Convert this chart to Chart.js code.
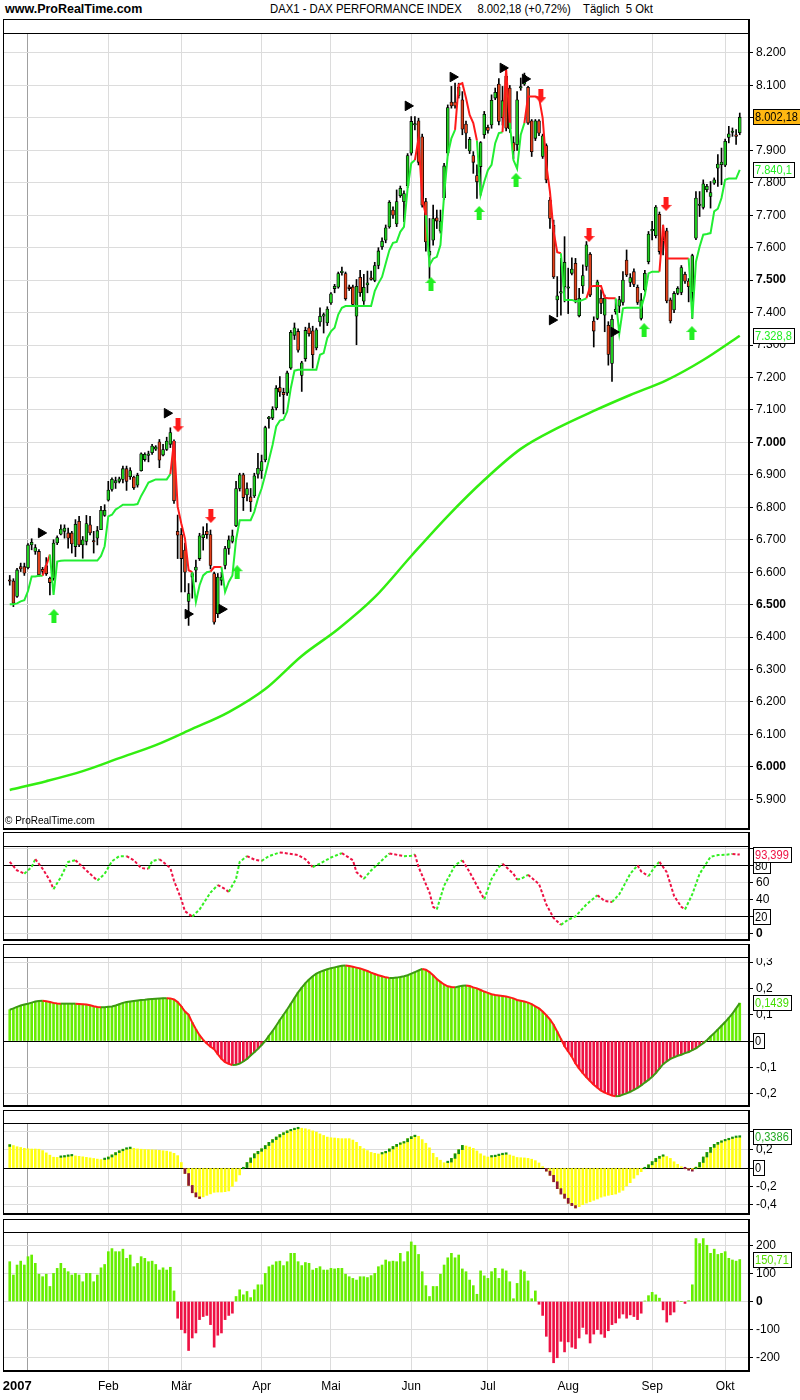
<!DOCTYPE html>
<html lang="de">
<head>
<meta charset="utf-8">
<title>DAX1 - DAX PERFORMANCE INDEX</title>
<script src="https://cdn.jsdelivr.net/npm/chart.js@4.4.1/dist/chart.umd.min.js"></script>
<style>
  body { margin: 0; background: #fff; }
  #page { position: relative; width: 800px; height: 1400px; overflow: hidden; font-family: 'Liberation Sans', Arial, sans-serif; }
  .frame { position: absolute; left: 3px; width: 747px; box-sizing: border-box; border: 1px solid #000; border-right-width: 2px; border-bottom-width: 2px; }
  .head { position: absolute; left: 3px; width: 746px; height: 1px; background: #000; }
  canvas { position: absolute; left: 0; }
  .txt { position: absolute; white-space: pre; color: #000; transform-origin: 0 0; }
</style>
</head>
<body>
<div id="page">
  <div class="txt" style="left:5px;top:1px;font-size:13px;font-weight:bold;transform:scaleX(0.96)">www.ProRealTime.com</div>
  <div class="txt" style="left:270px;top:1px;font-size:13px;transform:scaleX(0.87)">DAX1 - DAX PERFORMANCE INDEX     8.002,18 (+0,72%)    Täglich  5 Okt</div>

  <div class="frame" style="top:19px;height:811px"></div>
  <div class="head" style="top:33px"></div>
  <div class="frame" style="top:832px;height:109px"></div>
  <div class="head" style="top:846px"></div>
  <div class="frame" style="top:944px;height:163px"></div>
  <div class="head" style="top:957px"></div>
  <div class="frame" style="top:1110px;height:105px"></div>
  <div class="head" style="top:1123px"></div>
  <div class="frame" style="top:1219px;height:153px"></div>
  <div class="head" style="top:1232px"></div>

  <canvas id="price" width="800" height="794" style="top:34px"></canvas>
  <canvas id="rsi" width="800" height="92" style="top:847px"></canvas>
  <canvas id="macd" width="800" height="147" style="top:958px"></canvas>
  <canvas id="osc" width="800" height="89" style="top:1124px"></canvas>
  <canvas id="cci" width="800" height="167" style="top:1233px"></canvas>

  <div class="txt" style="left:5px;top:815px;font-size:10px">© ProRealTime.com</div>
</div>

<script>
// trading days, Dec 2006 .. Oct 2007
const monthDays = [
  [21, 22, 27, 28, 29],
  [2, 3, 4, 5, 8, 9, 10, 11, 12, 15, 16, 17, 18, 19, 22, 23, 24, 25, 26, 29, 30, 31],
  [1, 2, 5, 6, 7, 8, 9, 12, 13, 14, 15, 16, 19, 20, 21, 22, 23, 26, 27, 28],
  [1, 2, 5, 6, 7, 8, 9, 12, 13, 14, 15, 16, 19, 20, 21, 22, 23, 26, 27, 28, 29, 30],
  [2, 3, 4, 5, 10, 11, 12, 13, 16, 17, 18, 19, 20, 23, 24, 25, 26, 27, 30],
  [2, 3, 4, 7, 8, 9, 10, 11, 14, 15, 16, 17, 18, 21, 22, 23, 24, 25, 28, 29, 30, 31],
  [1, 4, 5, 6, 7, 8, 11, 12, 13, 14, 15, 18, 19, 20, 21, 22, 25, 26, 27, 28, 29],
  [2, 3, 4, 5, 6, 9, 10, 11, 12, 13, 16, 17, 18, 19, 20, 23, 24, 25, 26, 27, 30, 31],
  [1, 2, 3, 6, 7, 8, 9, 10, 13, 14, 15, 16, 17, 20, 21, 22, 23, 24, 27, 28, 29, 30, 31],
  [3, 4, 5, 6, 7, 10, 11, 12, 13, 14, 17, 18, 19, 20, 21, 24, 25, 26, 27, 28],
  [1, 2, 3, 4, 5]
];
const monthLabels = ['2007', 'Feb', 'Mär', 'Apr', 'Mai', 'Jun', 'Jul', 'Aug', 'Sep', 'Okt'];

const open = [6575,6573,6525,6617,6617,6614,6684,6664,6664,6609,
  6620,6581,6581,6690,6717,6726,6721,6721,6679,6757,
  6684,6695,6746,6694,6705,6731,6775,6822,6855,6875,
  6880,6886,6919,6894,6893,6868,6913,6947,6960,6968,
  6979,7002,6961,6978,6994,7003,6726,6716,6668,6510,
  6585,6606,6642,6706,6726,6716,6596,6472,6575,6621,
  6673,6695,6743,6858,6900,6838,6832,6835,6902,6912,
  6946,7073,7075,7106,7169,7154,7152,7229,7330,7342,
  7206,7258,7353,7344,7291,7371,7389,7368,7430,7474,
  7478,7523,7520,7479,7479,7389,7509,7435,7485,7507,
  7499,7545,7603,7623,7664,7716,7673,7760,7742,7791,
  7891,7978,7991,7942,7742,7577,7623,7692,7651,7754,
  7891,8049,8049,8069,8056,7981,7898,7884,7822,7850,
  7948,7971,7978,8061,8104,8001,8128,8092,7924,7917,
  8092,8104,8094,7991,7937,7991,7881,7915,7747,7670,
  7439,7460,7480,7475,7521,7552,7390,7482,7542,7580,
  7374,7382,7444,7392,7361,7243,7403,7420,7431,7562,
  7493,7526,7478,7382,7470,7557,7652,7637,7703,7624,
  7652,7439,7408,7459,7462,7518,7497,7462,7629,7730,
  7724,7779,7758,7799,7845,7856,7854,7940,7955,7946,
  7954];
const high = [6590,6580,6612,6628,6628,6688,6703,6685,6670,6615,
  6645,6585,6700,6712,6746,6746,6736,6726,6762,6772,
  6710,6775,6772,6726,6741,6803,6808,6880,6891,6893,
  6893,6927,6927,6922,6896,6905,6968,6968,6973,6994,
  6990,7009,6994,7016,7045,7008,6776,6735,6690,6565,
  6600,6637,6720,6740,6750,6730,6600,6596,6600,6680,
  6712,6730,6880,6905,6905,6875,6858,6905,6966,6961,
  7050,7080,7110,7175,7203,7167,7220,7345,7368,7350,
  7250,7355,7368,7358,7352,7415,7399,7418,7462,7487,
  7525,7540,7525,7485,7485,7502,7530,7518,7528,7528,
  7555,7600,7630,7670,7745,7726,7778,7790,7775,7890,
  8004,8004,7999,7950,7752,7690,7731,7716,7716,7860,
  8040,8097,8107,8107,8081,7990,7940,7896,7855,7927,
  8020,7978,8071,8092,8121,8097,8154,8100,7942,8081,
  8123,8138,8097,7995,7995,7995,7950,7920,7755,7685,
  7511,7567,7634,7537,7569,7567,7475,7547,7619,7585,
  7387,7500,7470,7454,7372,7392,7440,7450,7526,7593,
  7520,7535,7485,7459,7530,7650,7681,7730,7710,7670,
  7660,7445,7465,7480,7545,7525,7505,7580,7773,7773,
  7809,7795,7804,7815,7887,7907,7935,7974,7969,7964,
  8015];
const low = [6560,6494,6522,6602,6590,6610,6669,6655,6588,6595,
  6590,6530,6575,6685,6715,6705,6674,6659,6648,6679,
  6643,6684,6715,6659,6684,6731,6772,6819,6850,6858,
  6875,6875,6852,6886,6855,6862,6911,6942,6940,6963,
  6975,6922,6958,6975,6984,6812,6642,6539,6539,6436,
  6520,6570,6636,6668,6704,6610,6440,6460,6560,6610,
  6655,6690,6740,6850,6790,6820,6787,6830,6890,6889,
  6940,7044,7070,7100,7142,7088,7145,7225,7317,7278,
  7157,7250,7327,7229,7285,7358,7337,7360,7425,7461,
  7475,7515,7438,7468,7420,7301,7450,7425,7461,7500,
  7495,7535,7595,7615,7660,7690,7665,7755,7680,7785,
  7885,7963,7855,7725,7589,7505,7608,7659,7645,7748,
  7885,8030,8030,8061,7948,7906,7890,7829,7752,7762,
  7937,7953,7968,8056,7978,7978,7960,7955,7875,7900,
  8085,8100,7980,7881,7930,7945,7875,7800,7659,7505,
  7387,7392,7433,7397,7516,7430,7387,7459,7530,7449,
  7294,7378,7397,7341,7238,7188,7395,7400,7423,7511,
  7480,7480,7425,7377,7465,7550,7624,7630,7580,7578,
  7430,7368,7400,7455,7455,7490,7433,7382,7625,7696,
  7719,7772,7722,7795,7789,7794,7850,7923,7943,7918,
  7948];
const close = [6572,6504,6607,6610,6597,6684,6692,6676,6592,6602,
  6595,6568,6690,6707,6733,6736,6705,6687,6748,6684,
  6700,6750,6721,6693,6728,6791,6791,6853,6886,6882,
  6888,6919,6880,6913,6860,6899,6965,6963,6962,6989,
  6986,6945,6978,7004,7030,6820,6714,6642,6600,6534,
  6596,6616,6712,6716,6716,6621,6446,6585,6585,6673,
  6700,6712,6858,6900,6830,6858,6817,6897,6920,6941,
  7046,7077,7102,7167,7155,7147,7214,7339,7353,7284,
  7245,7345,7335,7270,7347,7389,7390,7411,7458,7481,
  7520,7528,7443,7474,7425,7481,7461,7478,7492,7502,
  7545,7590,7620,7661,7740,7700,7742,7783,7767,7884,
  7989,7980,7863,7731,7618,7589,7690,7682,7682,7852,
  8032,8037,8037,8094,7965,7953,7934,7863,7803,7924,
  8011,7961,8054,8079,7989,8053,7968,7966,7898,8056,
  8095,8131,7984,7896,7991,7953,7945,7809,7690,7510,
  7452,7462,7555,7476,7534,7439,7444,7514,7609,7454,
  7343,7495,7428,7444,7271,7379,7410,7440,7500,7516,
  7508,7487,7431,7439,7521,7642,7654,7725,7588,7619,
  7436,7374,7459,7475,7539,7497,7480,7576,7753,7734,
  7797,7789,7770,7809,7858,7864,7928,7951,7959,7943,
  8002.18];

// trailing stop and the day ranges where it sits above price (red)
const stop = [6501,6501,6504,6510,6514,6542,6587,6587,6589,6589,
  6620,6654,6530,6633,6635,6636,6636,6636,6636,6636,
  6636,6636,6636,6636,6636,6650,6680,6772,6777,6793,
  6800,6808,6808,6808,6808,6810,6835,6855,6876,6881,
  6886,6886,6886,6886,6902,7004,6802,6750,6704,6606,
  6600,6508,6560,6590,6600,6602,6616,6616,6616,6539,
  6570,6590,6700,6760,6760,6760,6760,6786,6827,6858,
  6900,6946,6992,7049,7067,7070,7095,7167,7221,7224,
  7224,7224,7224,7224,7224,7270,7275,7322,7342,7353,
  7394,7415,7420,7420,7420,7420,7420,7420,7420,7420,
  7466,7490,7510,7551,7592,7615,7618,7649,7664,7783,
  7860,7870,7937,7752,7700,7546,7566,7572,7608,7762,
  7886,7937,7963,8102,8107,8061,8009,7984,7930,7762,
  7803,7839,7855,7922,7953,7956,8150,7985,7870,7844,
  7948,7984,8066,8066,8066,8063,8000,7856,7773,7650,
  7586,7583,7439,7439,7439,7435,7435,7439,7444,7480,
  7482,7482,7482,7446,7444,7444,7444,7336,7413,7415,
  7415,7415,7415,7415,7454,7521,7526,7526,7526,7670,
  7567,7567,7567,7567,7567,7567,7567,7382,7557,7603,
  7640,7642,7645,7712,7720,7753,7809,7813,7813,7813,
  7840.1];
const stopRed = [[10, 11], [45, 50], [56, 58], [112, 114], [123, 128], [136, 137], [142, 151], [159, 166], [179, 186]];

// 200-day average, read every 10 sessions
const maDays = [0, 10, 20, 30, 40, 50, 60, 70, 80, 90, 100, 110, 120, 130, 140, 150, 160, 170, 180, 190, 200];
const maValues = [5929, 5956, 5987, 6027, 6067, 6117, 6169, 6240, 6342, 6425, 6523, 6650, 6773, 6884, 6980, 7044, 7097, 7146, 7192, 7254, 7328.8];

// signal markers
const triDays = [8.6, 43.1, 48.8, 58.1, 109.1, 121.4, 135.1, 141.2, 148.6, 165.5];
const triPrices = [6721, 7090, 6471, 6486, 8037, 8126, 8154, 8120, 7377, 7340];
const downDays = [46.1, 55.1, 145.5, 158.7, 179.8];
const downPrices = [7053, 6773, 8067, 7639, 7735];
const upDays = [12.1, 62.3, 115.4, 128.6, 138.7, 173.8, 186.9];
const upPrices = [6465, 6600, 7488, 7707, 7809, 7346, 7337];

// stochastic-like oscillator (panel 2)
const rsiDays = [0,2,4,6,7,9,11,12,14,16,18,20,22,24,26,28,30,32,34,36,38,39,41,42,44,45,47,48,50,52,55,57,59,60,62,63,65,67,69,71,74,76,79,81,83,85,88,91,94,95,97,99,102,104,108,110,111,112,115,116,117,119,122,124,126,128,130,132,134,135,138,139,140,142,145,147,149,151,153,155,158,161,163,165,167,170,172,173,175,177,178,180,182,184,185,187,189,192,194,196,198,200];
const rsiValues = [84.8,74.8,71,78.8,88,76.8,62.8,52.8,66.8,84.8,86.8,78.8,70.8,62.8,70.8,85.6,91.6,91.6,86.8,77.6,76.8,85.6,88,84.8,77.6,62.8,40.8,26.8,20.5,28.8,48.8,57.6,52.8,49.6,64.8,84.8,91.6,87.6,86,91.6,96,94.8,92.8,88,78.8,82.8,90,95.2,86.8,72.8,64.8,74.8,86.8,94.8,91.6,92,93.6,78.8,48.8,32,28.8,56.8,80.8,86.8,72.8,56.8,40.8,64.8,78.8,82.8,70.8,64,64.8,69.6,58.8,34.8,18.8,10.8,16.8,20.8,34.8,45.6,38.8,37.6,46.8,70.8,80.8,73.6,68,80.8,84.8,72.8,44.8,32,28.8,46.8,70.8,90.8,92.8,93.2,94.1,93.399];

// MACD (panel 3)
const macd = [0.119,0.124,0.130,0.135,0.139,0.142,0.146,0.150,0.152,0.153,
  0.151,0.148,0.145,0.143,0.142,0.142,0.142,0.142,0.142,0.141,
  0.140,0.139,0.136,0.132,0.129,0.128,0.128,0.130,0.131,0.135,
  0.140,0.145,0.148,0.150,0.152,0.154,0.156,0.157,0.159,0.160,
  0.161,0.162,0.163,0.163,0.162,0.158,0.148,0.132,0.112,0.100,
  0.070,0.045,0.022,0.004,-0.010,-0.022,-0.031,-0.050,-0.068,-0.080,
  -0.087,-0.091,-0.090,-0.086,-0.078,-0.068,-0.055,-0.043,-0.030,-0.015,
  0.000,0.020,0.038,0.058,0.080,0.100,0.120,0.141,0.163,0.185,
  0.203,0.220,0.234,0.246,0.256,0.263,0.268,0.273,0.277,0.280,
  0.283,0.286,0.287,0.285,0.282,0.279,0.276,0.271,0.266,0.260,
  0.255,0.250,0.246,0.242,0.240,0.240,0.241,0.243,0.246,0.250,
  0.256,0.262,0.268,0.274,0.271,0.262,0.250,0.236,0.225,0.215,
  0.208,0.205,0.204,0.207,0.210,0.211,0.209,0.204,0.200,0.194,
  0.188,0.183,0.178,0.175,0.173,0.171,0.169,0.166,0.162,0.156,
  0.153,0.150,0.146,0.140,0.132,0.124,0.112,0.098,0.082,0.062,
  0.035,0.008,-0.020,-0.040,-0.060,-0.085,-0.105,-0.122,-0.138,-0.152,
  -0.166,-0.178,-0.189,-0.196,-0.202,-0.207,-0.210,-0.209,-0.204,-0.199,
  -0.193,-0.186,-0.178,-0.169,-0.158,-0.148,-0.136,-0.122,-0.105,-0.088,
  -0.078,-0.068,-0.062,-0.056,-0.052,-0.046,-0.042,-0.035,-0.028,-0.018,
  -0.008,0.003,0.017,0.030,0.044,0.058,0.072,0.088,0.104,0.124,
  0.1439];

// momentum histogram (panel 4)
const momentum = [0.255,0.245,0.232,0.224,0.215,0.210,0.207,0.207,0.205,0.190,
  0.165,0.140,0.118,0.116,0.120,0.127,0.132,0.135,0.132,0.127,
  0.122,0.116,0.110,0.104,0.097,0.092,0.098,0.120,0.143,0.168,
  0.188,0.205,0.212,0.218,0.215,0.208,0.205,0.202,0.200,0.198,
  0.196,0.193,0.188,0.184,0.175,0.160,0.135,0.060,-0.060,-0.190,
  -0.270,-0.315,-0.333,-0.315,-0.298,-0.282,-0.265,-0.262,-0.262,-0.258,
  -0.250,-0.200,-0.145,-0.075,0.005,0.060,0.110,0.155,0.182,0.210,
  0.245,0.280,0.310,0.338,0.365,0.385,0.405,0.418,0.428,0.440,
  0.434,0.428,0.418,0.405,0.392,0.372,0.355,0.337,0.330,0.327,
  0.322,0.320,0.320,0.320,0.305,0.280,0.236,0.210,0.190,0.170,
  0.160,0.153,0.165,0.182,0.208,0.235,0.258,0.272,0.286,0.320,
  0.342,0.356,0.346,0.310,0.270,0.220,0.160,0.115,0.085,0.058,
  0.065,0.105,0.155,0.200,0.247,0.240,0.228,0.214,0.186,0.155,
  0.132,0.120,0.124,0.135,0.145,0.150,0.153,0.142,0.130,0.115,
  0.112,0.110,0.105,0.096,0.080,0.055,0.015,-0.034,-0.080,-0.150,
  -0.225,-0.284,-0.330,-0.385,-0.410,-0.436,-0.422,-0.400,-0.383,-0.368,
  -0.352,-0.338,-0.318,-0.307,-0.298,-0.291,-0.284,-0.265,-0.243,-0.195,
  -0.160,-0.112,-0.075,-0.040,0.005,0.035,0.070,0.105,0.128,0.138,
  0.125,0.105,0.068,0.040,0.015,-0.008,-0.018,-0.020,0.012,0.060,
  0.120,0.170,0.225,0.258,0.280,0.296,0.308,0.322,0.333,0.336,
  0.3386];

// CCI (panel 5)
const cci = [143,95,131,145,131,161,167,137,98,89,
  98,54,101,119,137,119,107,95,101,95,
  71,101,101,71,95,121,133,179,190,179,
  179,188,155,167,125,137,161,155,143,145,
  133,113,121,113,123,38,-60,-101,-113,-176,
  -131,-113,-65,-54,-50,-83,-164,-121,-113,-65,
  -50,-42,18,42,24,36,14,42,60,60,
  101,125,131,143,145,129,143,173,173,143,
  129,140,137,113,119,125,113,113,119,117,
  119,119,98,89,83,77,89,89,86,93,
  101,125,131,149,143,145,143,173,143,179,
  214,202,169,107,57,18,54,54,98,131,
  157,173,157,167,117,107,77,57,26,110,
  92,83,107,119,83,117,110,71,10,65,
  113,107,74,10,38,-10,-50,-125,-181,-220,
  -202,-143,-181,-145,-164,-169,-131,-93,-117,-149,
  -117,-101,-117,-129,-105,-83,-77,-60,-45,-60,
  -48,-54,-65,-42,2,21,33,24,12,-30,
  -74,-48,-38,2,0,-7,3,60,226,208,
  226,202,173,188,169,173,179,155,149,145,
  150.71];

// tick labels of the value axes
const priceTicks = [5900, 6000, 6100, 6200, 6300, 6400, 6500, 6600, 6700, 6800, 6900, 7000, 7100, 7200, 7300, 7400, 7500, 7600, 7700, 7800, 7900, 8000, 8100, 8200];
const rsiTicks = [0, 20, 40, 60, 80, 100];
const macdTicks = [-0.2, -0.1, 0, 0.1, 0.2, 0.3];
const momTicks = [-0.4, -0.2, 0, 0.2, 0.4];
const cciTicks = [-200, -100, 0, 100, 200];

// ---------------------------------------------------------------
const FONT = "'Liberation Sans', Arial, sans-serif";
Chart.defaults.font.family = FONT;
Chart.defaults.font.size = 12;
Chart.defaults.color = '#000';

const GREEN = '#22ee33', RED = '#ff1a1a', GRID = '#dcdcdc';

const monthStarts = [];
let n = 0;
monthDays.forEach((d, m) => { if (m > 0) monthStarts.push(n); n += d.length; });
const days = close.map((_, i) => i);

function de(v, d) {
  const s = Math.abs(v).toFixed(d).split('.');
  return (v < 0 ? '-' : '') + s[0].replace(/\B(?=(\d{3})+(?!\d))/g, '.') + (s[1] ? ',' + s[1] : '');
}
const isRed = i => stopRed.some(r => i >= r[0] && i <= r[1]);
const last = a => a[a.length - 1];
const pts = (xs, ys) => xs.map((x, i) => ({ x: x, y: ys[i] }));

function arrow(color, up) {
  const c = document.createElement('canvas');
  c.width = 11; c.height = 14;
  const g = c.getContext('2d');
  g.fillStyle = color;
  g.beginPath();
  if (up) { g.moveTo(5.5, 0); g.lineTo(11, 6); g.lineTo(8, 6); g.lineTo(8, 14); g.lineTo(3, 14); g.lineTo(3, 6); g.lineTo(0, 6); }
  else { g.moveTo(5.5, 14); g.lineTo(11, 8); g.lineTo(8, 8); g.lineTo(8, 0); g.lineTo(3, 0); g.lineTo(3, 8); g.lineTo(0, 8); }
  g.closePath();
  g.fill();
  return c;
}

// value boxes at the right axis
const boxPlugin = {
  id: 'valueBoxes',
  afterDraw(chart, args, opts) {
    const ctx = chart.ctx, y = chart.scales.y, right = chart.chartArea.right;
    (opts.items || []).forEach(b => {
      const py = Math.round(y.getPixelForValue(b.value));
      ctx.save();
      ctx.font = '12px ' + FONT;
      const sx = 0.92;
      const w = Math.ceil(ctx.measureText(b.text).width * sx) + 4;
      const x0 = right + 5;
      ctx.fillStyle = b.bg || '#fff';
      ctx.fillRect(x0, py - 8, w, 16);
      ctx.strokeStyle = '#000';
      ctx.lineWidth = 1;
      ctx.strokeRect(x0 + 0.5, py - 7.5, w, 15);
      ctx.fillStyle = b.color || '#000';
      ctx.textBaseline = 'middle';
      ctx.translate(x0 + 2, py + 1);
      ctx.scale(sx, 1);
      ctx.fillText(b.text, 0, 0);
      ctx.restore();
    });
  }
};

const xMin = -1.575, xMax = 202.26;

function xAxis(labels) {
  return {
    type: 'linear', min: xMin, max: xMax, offset: false,
    afterBuildTicks: s => { s.ticks = monthStarts.map(v => ({ value: v })); },
    afterFit: s => { s.height = labels ? 30 : 0; s.paddingLeft = 0; s.paddingRight = 0; },
    grid: { offset: false, color: c => c.index === 0 ? '#a0a0a0' : GRID, drawTicks: false },
    border: { display: false },
    ticks: {
      display: labels, autoSkip: false, maxRotation: 0, padding: 9,
      callback: (v, i) => i === 0 ? monthLabels[0] + '      ' : monthLabels[i],
      font: c => c.index === 0 ? { size: 13, weight: 'bold' } : { size: 12 }
    }
  };
}

function yAxis(min, max, ticks, label, gridColor, bold) {
  return {
    position: 'right', min: min, max: max,
    afterBuildTicks: s => { s.ticks = ticks.map(v => ({ value: v })); },
    afterFit: s => { s.width = 52; s.paddingTop = 0; s.paddingBottom = 0; },
    grid: { color: c => gridColor(c.tick ? c.tick.value : null), tickLength: 5, tickColor: '#000' },
    border: { display: false },
    ticks: {
      padding: 3, autoSkip: false, callback: label,
      font: c => ({ size: 12, weight: c.tick && bold(c.tick.value) ? 'bold' : 'normal' })
    }
  };
}

function makeChart(id, datasets, y, boxes, labels) {
  return new Chart(document.getElementById(id), {
    type: 'bar',
    data: { datasets: datasets },
    options: {
      responsive: false, animation: false, events: [],
      layout: { autoPadding: false, padding: { left: 4, right: 0, top: 0, bottom: 0 } },
      plugins: { legend: { display: false }, tooltip: { enabled: false }, valueBoxes: { items: boxes } },
      scales: { x: xAxis(labels), y: y }
    },
    plugins: [boxPlugin]
  });
}

// ---- price panel
makeChart('price', [
  { type: 'line', data: pts(triDays, triPrices), showLine: false, pointStyle: 'triangle', rotation: 90,
    pointRadius: 5.5, pointBackgroundColor: '#000', pointBorderColor: '#000', order: 0 },
  { type: 'line', data: pts(downDays, downPrices), showLine: false, pointStyle: arrow('#ff1a1a', false), pointRadius: 6, order: 0 },
  { type: 'line', data: pts(upDays, upPrices), showLine: false, pointStyle: arrow('#22ee22', true), pointRadius: 6, order: 0 },
  { type: 'line', data: pts(days, stop), borderWidth: 2, pointRadius: 0, order: 1,
    segment: { borderColor: c => isRed(c.p1DataIndex) ? RED : GREEN } },
  { type: 'line', data: pts(maDays, maValues), borderColor: '#33ee11', borderWidth: 2.5, pointRadius: 0,
    cubicInterpolationMode: 'monotone', order: 2 },
  { type: 'bar', data: days.map(i => ({ x: i, y: [open[i], close[i]] })), grouped: false, barThickness: 3,
    minBarLength: 1.5, borderWidth: 0.8, borderColor: '#000', borderSkipped: false,
    backgroundColor: days.map(i => close[i] >= open[i] ? '#1fcc1f' : '#e0401a'), order: 3 },
  { type: 'bar', data: days.map(i => ({ x: i, y: [low[i], high[i]] })), grouped: false, barThickness: 1,
    backgroundColor: '#000', order: 4 }
], yAxis(5811.7, 8258.5, priceTicks, v => de(v, 0), () => GRID, v => v % 500 === 0), [
  { value: last(stop), text: de(last(stop), 1), color: '#22ee22' },
  { value: last(maValues), text: de(last(maValues), 1), color: '#22ee22' },
  { value: last(close), text: de(last(close), 2), color: '#000', bg: '#ffb812' }
], false);

// ---- oscillator panel 2
makeChart('rsi', [
  { type: 'line', data: pts(rsiDays, rsiValues), borderWidth: 2, borderDash: [3, 2], pointRadius: 0,
    segment: { borderColor: c => c.p1.parsed.y >= c.p0.parsed.y ? '#33ee22' : '#ee1144' } }
], yAxis(-5.9, 102.35, rsiTicks, v => (v === 0 ? '0' : (v === 20 || v === 80 || v === 100 ? '' : String(v))),
  v => (v === 20 || v === 80) ? '#000' : GRID, v => v === 0), [
  { value: 80, text: '80' },
  { value: 20, text: '20' },
  { value: last(rsiValues), text: de(last(rsiValues), 3), color: '#ee1144' }
], false);

// ---- MACD panel 3
makeChart('macd', [
  { type: 'line', data: pts(days, macd), borderWidth: 2, pointRadius: 0, order: 0,
    segment: { borderColor: c => c.p1.parsed.y >= c.p0.parsed.y ? '#3c9a12' : '#ff1a1a' } },
  { type: 'bar', data: pts(days, macd), grouped: false, barThickness: 2, order: 1,
    backgroundColor: macd.map(v => v >= 0 ? '#66ee00' : '#ee1144') }
], yAxis(-0.2433, 0.3156, macdTicks, v => v === 0 ? '' : de(v, 1), v => v === 0 ? '#000' : GRID, () => false), [
  { value: 0, text: '0' },
  { value: last(macd), text: de(last(macd), 4), color: '#44dd00' }
], false);

// ---- momentum panel 4: yellow bars, the day's change marked at the tip
const tipRange = momentum.map((v, i) => {
  const prev = i > 0 ? momentum[i - 1] : v - 0.02;
  if (v > 0 && v > prev) return { x: i, y: [Math.max(prev, 0), v] };
  if (v < 0 && v < prev) return { x: i, y: [Math.min(prev, 0), v] };
  return { x: i, y: null };
});
makeChart('osc', [
  { type: 'bar', data: tipRange, grouped: false, barThickness: 2, minBarLength: 1.5, order: 0,
    backgroundColor: tipRange.map(t => t.y && t.y[1] > 0 ? '#129012' : '#8b1538') },
  { type: 'bar', data: pts(days, momentum), grouped: false, barThickness: 2, order: 1,
    backgroundColor: '#ffff10' }
], yAxis(-0.4907, 0.48, momTicks, v => (v === 0 || v === 0.4) ? '' : de(v, 1), v => v === 0 ? '#000' : GRID, () => false), [
  { value: 0, text: '0' },
  { value: last(momentum), text: de(last(momentum), 4), color: '#22aa22' }
], false);

// ---- CCI panel 5 (with the date axis)
makeChart('cci', [
  { type: 'bar', data: pts(days, cci), grouped: false, barThickness: 2,
    backgroundColor: cci.map(v => v >= 0 ? '#66ee00' : '#ee1144') }
], yAxis(-246, 246, cciTicks, v => String(v), () => GRID, v => v === 0), [
  { value: last(cci), text: de(last(cci), 2), color: '#55dd00' }
], true);
</script>
</body>
</html>
